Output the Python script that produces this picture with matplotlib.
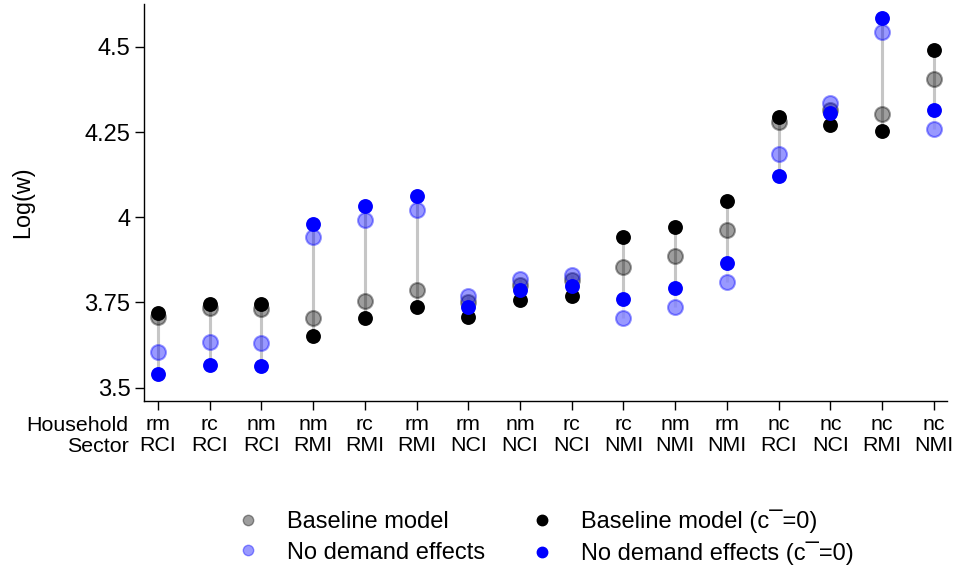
import numpy as np
import matplotlib
matplotlib.use("Agg")
import matplotlib.pyplot as plt
from matplotlib.lines import Line2D

plt.rcParams['font.family'] = ['Liberation Sans', 'DejaVu Sans']

household = ["rm", "rc", "nm", "nm", "rc", "rm", "rm", "nm", "rc", "rc", "nm", "rm", "nc", "nc", "nc", "nc"]
sector = ["RCI", "RCI", "RCI", "RMI", "RMI", "RMI", "NCI", "NCI", "NCI", "NMI", "NMI", "NMI", "RCI", "NCI", "RMI", "NMI"]

# log wages
baseline = [3.707, 3.733, 3.731, 3.704, 3.754, 3.786, 3.752, 3.801, 3.816, 3.855, 3.886, 3.962, 4.281, 4.315, 4.303, 4.405]
no_demand = [3.606, 3.633, 3.631, 3.941, 3.992, 4.022, 3.769, 3.818, 3.831, 3.705, 3.737, 3.811, 4.187, 4.335, 4.545, 4.260]
baseline_c0 = [3.718, 3.745, 3.745, 3.653, 3.704, 3.736, 3.708, 3.757, 3.770, 3.941, 3.972, 4.049, 4.293, 4.271, 4.254, 4.491]
no_demand_c0 = [3.539, 3.567, 3.565, 3.980, 4.032, 4.062, 3.738, 3.787, 3.799, 3.760, 3.792, 3.867, 4.121, 4.305, 4.586, 4.316]

x = np.arange(len(household))

fig = plt.figure(figsize=(9.56, 5.72), dpi=100)
ax = fig.add_axes([0.151, 0.299, 0.84, 0.694])

# range lines
ax.vlines(x, baseline, no_demand, color='#c6c6c6', lw=2.2, alpha=0.3, zorder=1)
ax.vlines(x, baseline_c0, no_demand_c0, color='#c6c6c6', lw=2.2, zorder=1)

ms = 115
ax.scatter(x, baseline, s=ms, color='black', alpha=0.38, lw=1.5, zorder=2)
ax.scatter(x, no_demand, s=ms, color='blue', alpha=0.4, lw=1.5, zorder=2)
ax.scatter(x, baseline_c0, s=ms, color='black', lw=0, zorder=3)
ax.scatter(x, no_demand_c0, s=ms, color='blue', lw=0, zorder=3)

ax.set_xlim(-0.26, 15.26)
ax.set_ylim(3.461, 4.626)
ax.set_yticks([3.5, 3.75, 4, 4.25, 4.5])
ax.set_yticklabels(["3.5", "3.75", "4", "4.25", "4.5"], fontsize=17)
ax.set_xticks(x)
ax.set_xticklabels([f"{h}\n{s}" for h, s in zip(household, sector)], fontsize=15.4, linespacing=1.12)
ax.tick_params(axis='both', length=6.5, width=1, direction='out', pad=3.5)
ax.set_ylabel("Log(w)", fontsize=16.8)
ax.yaxis.set_label_coords(-0.137, 0.5)

for side in ['top', 'right']:
    ax.spines[side].set_visible(False)
for side in ['left', 'bottom']:
    ax.spines[side].set_linewidth(1)

ax.annotate("Household\nSector", xy=(0, 0), xycoords='axes fraction',
            xytext=(-16, -15), textcoords='offset pixels',
            ha='right', va='top', fontsize=15.4, linespacing=1.12, multialignment='right')

handles = [
    Line2D([], [], ls='none', marker='o', ms=7.5, color='black', alpha=0.38),
    Line2D([], [], ls='none', marker='o', ms=7.5, color='blue', alpha=0.4),
    Line2D([], [], ls='none', marker='o', ms=7.5, color='black'),
    Line2D([], [], ls='none', marker='o', ms=7.5, color='blue'),
]
labels = ["Baseline model", "No demand effects",
          "Baseline model (c\u00af=0)", "No demand effects (c\u00af=0)"]
fig.legend(handles, labels, loc='center left', bbox_to_anchor=(236 / 956, 1 - 537.5 / 572), ncol=2,
           frameon=False, fontsize=17, handletextpad=1.15, columnspacing=1.9,
           labelspacing=0.35, handlelength=1.0, borderpad=0, borderaxespad=0)

fig.savefig("out.png", dpi=100)
